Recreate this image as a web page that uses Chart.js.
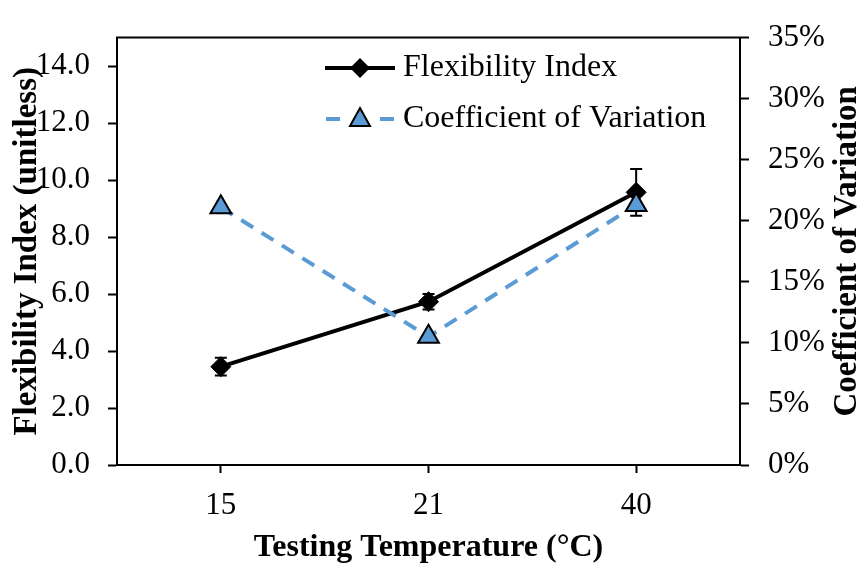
<!DOCTYPE html>
<html>
<head>
<meta charset="utf-8">
<script src="https://cdn.jsdelivr.net/npm/chart.js@4.4.0/dist/chart.umd.min.js"></script>
<style>
  body { margin: 0; background: #fff; }
  canvas { display: block; }
</style>
</head>
<body>
<canvas id="chartFI" width="863" height="567"></canvas>
<script>
'use strict';

// chart data
const temps = ['15', '21', '40'];
const fiValues = [3.45, 5.73, 9.57];
const fiErrors = [0.31, 0.27, 0.82];
const cvValues = [21.1, 10.5, 21.3]; // percent
const fiTicks = [0, 2, 4, 6, 8, 10, 12, 14];
const cvTicks = [0, 5, 10, 15, 20, 25, 30, 35];

const serif = "'Liberation Serif', 'Times New Roman', serif";
const cvBlue = '#5B9BD5';

// error bars for the flexibility index, drawn under the markers
const errorBars = {
  id: 'errorBars',
  beforeDatasetsDraw(chart) {
    let ctx = chart.ctx;
    let meta = chart.getDatasetMeta(0);
    let yScale = chart.scales.y;
    ctx.save();
    ctx.strokeStyle = '#000';
    ctx.lineWidth = 2;
    meta.data.forEach(function(pt, i) {
      let top = yScale.getPixelForValue(fiValues[i] + fiErrors[i]);
      let bot = yScale.getPixelForValue(fiValues[i] - fiErrors[i]);
      ctx.beginPath();
      ctx.moveTo(pt.x, top); ctx.lineTo(pt.x, bot);
      ctx.moveTo(pt.x - 6, top); ctx.lineTo(pt.x + 6, top);
      ctx.moveTo(pt.x - 6, bot); ctx.lineTo(pt.x + 6, bot);
      ctx.stroke();
    });
    ctx.restore();
  }
};

// top frame line, right axis title (reads bottom to top) and legend
const extras = {
  id: 'extras',
  afterDraw(chart) {
    let ctx = chart.ctx;
    let area = chart.chartArea;
    ctx.save();
    ctx.strokeStyle = '#000';
    ctx.lineWidth = 2;
    ctx.beginPath();
    ctx.moveTo(area.left - 1, area.top);
    ctx.lineTo(area.right + 1, area.top);
    ctx.stroke();

    // right title
    ctx.save();
    ctx.translate(847, (area.top + area.bottom) / 2);
    ctx.rotate(-Math.PI / 2);
    ctx.font = 'bold 33px ' + serif;
    ctx.fillStyle = '#000';
    ctx.textAlign = 'center';
    ctx.textBaseline = 'middle';
    ctx.fillText('Coefficient of Variation', 0, 0);
    ctx.restore();

    // legend
    let lx = 325, mx = 360, tx = 403;
    let y1 = 68, y2 = 119;
    ctx.font = '32px ' + serif;
    ctx.fillStyle = '#000';
    ctx.textBaseline = 'middle';
    ctx.fillText(chart.data.datasets[0].label, tx, y1);
    ctx.fillText(chart.data.datasets[1].label, tx, y2);

    ctx.lineWidth = 4;
    ctx.beginPath();
    ctx.moveTo(lx, y1); ctx.lineTo(lx + 70, y1);
    ctx.stroke();
    ctx.beginPath();
    ctx.moveTo(mx, y1 - 10); ctx.lineTo(mx + 10, y1);
    ctx.lineTo(mx, y1 + 10); ctx.lineTo(mx - 10, y1);
    ctx.closePath();
    ctx.fill();

    ctx.strokeStyle = cvBlue;
    ctx.beginPath();
    ctx.moveTo(lx + 1, y2); ctx.lineTo(lx + 15, y2);
    ctx.moveTo(lx + 55, y2); ctx.lineTo(lx + 69, y2);
    ctx.stroke();
    ctx.beginPath();
    ctx.moveTo(mx, y2 - 11); ctx.lineTo(mx + 10, y2 + 7); ctx.lineTo(mx - 10, y2 + 7);
    ctx.closePath();
    ctx.fillStyle = cvBlue;
    ctx.fill();
    ctx.strokeStyle = '#000';
    ctx.lineWidth = 2;
    ctx.stroke();
    ctx.restore();
  }
};

let ctx = document.getElementById('chartFI').getContext('2d');
/* eslint-disable-next-line no-unused-vars, no-undef */
let chartFI = new Chart(ctx, {
  type: 'line',
  data: {
    labels: temps,
    datasets: [{
      label: 'Flexibility Index',
      data: fiValues,
      yAxisID: 'y',
      borderColor: '#000',
      backgroundColor: '#000',
      borderWidth: 4,
      pointStyle: 'rectRot',
      pointRadius: 10,
      pointBorderWidth: 1,
      pointBackgroundColor: '#000',
      pointBorderColor: '#000',
      order: 2
    }, {
      label: 'Coefficient of Variation',
      data: cvValues,
      yAxisID: 'y1',
      borderColor: cvBlue,
      backgroundColor: cvBlue,
      borderWidth: 4,
      borderDash: [14, 10],
      pointStyle: 'triangle',
      pointRadius: 12,
      pointBorderWidth: 2,
      pointBackgroundColor: cvBlue,
      pointBorderColor: '#000',
      order: 1
    }]
  },
  options: {
    responsive: false,
    animation: false,
    layout: { padding: { top: 24, left: 0, right: 0, bottom: 0 } },
    plugins: {
      legend: { display: false },
      tooltip: { enabled: false }
    },
    scales: {
      x: {
        type: 'category',
        offset: true,
        afterFit(scale) { scale.height = 102; },
        grid: {
          display: true,
          offset: false,
          drawOnChartArea: false,
          drawTicks: true,
          tickLength: 8,
          tickColor: '#000',
          tickWidth: 2
        },
        border: { display: true, color: '#000', width: 2 },
        ticks: { color: '#000', padding: 14, font: { family: serif, size: 31 } },
        title: {
          display: true,
          text: 'Testing Temperature (°C)',
          color: '#000',
          padding: { top: 0, bottom: 0 },
          font: { family: serif, size: 32, weight: 'bold' }
        }
      },
      y: {
        position: 'left',
        min: 0,
        max: 15,
        afterFit(scale) { scale.width = 117; },
        afterBuildTicks(scale) {
          scale.ticks = fiTicks.map(v => ({ value: v }));
        },
        grid: {
          display: true,
          drawOnChartArea: false,
          drawTicks: true,
          tickLength: 9,
          tickColor: '#000',
          tickWidth: 2
        },
        border: { display: true, color: '#000', width: 2 },
        ticks: {
          color: '#000',
          padding: 18,
          font: { family: serif, size: 31 },
          callback: v => v.toFixed(1)
        },
        title: {
          display: true,
          text: 'Flexibility Index (unitless)',
          color: '#000',
          padding: { top: 8, bottom: 0 },
          font: { family: serif, size: 33, weight: 'bold' }
        }
      },
      y1: {
        position: 'right',
        min: 0,
        max: 35,
        afterFit(scale) { scale.width = 123; },
        afterBuildTicks(scale) {
          scale.ticks = cvTicks.map(v => ({ value: v }));
        },
        grid: {
          display: true,
          drawOnChartArea: false,
          drawTicks: true,
          tickLength: 9,
          tickColor: '#000',
          tickWidth: 2
        },
        border: { display: true, color: '#000', width: 2 },
        ticks: {
          color: '#000',
          padding: 19,
          font: { family: serif, size: 31 },
          callback: v => v + '%'
        }
      }
    }
  },
  plugins: [errorBars, extras]
});
</script>
</body>
</html>
